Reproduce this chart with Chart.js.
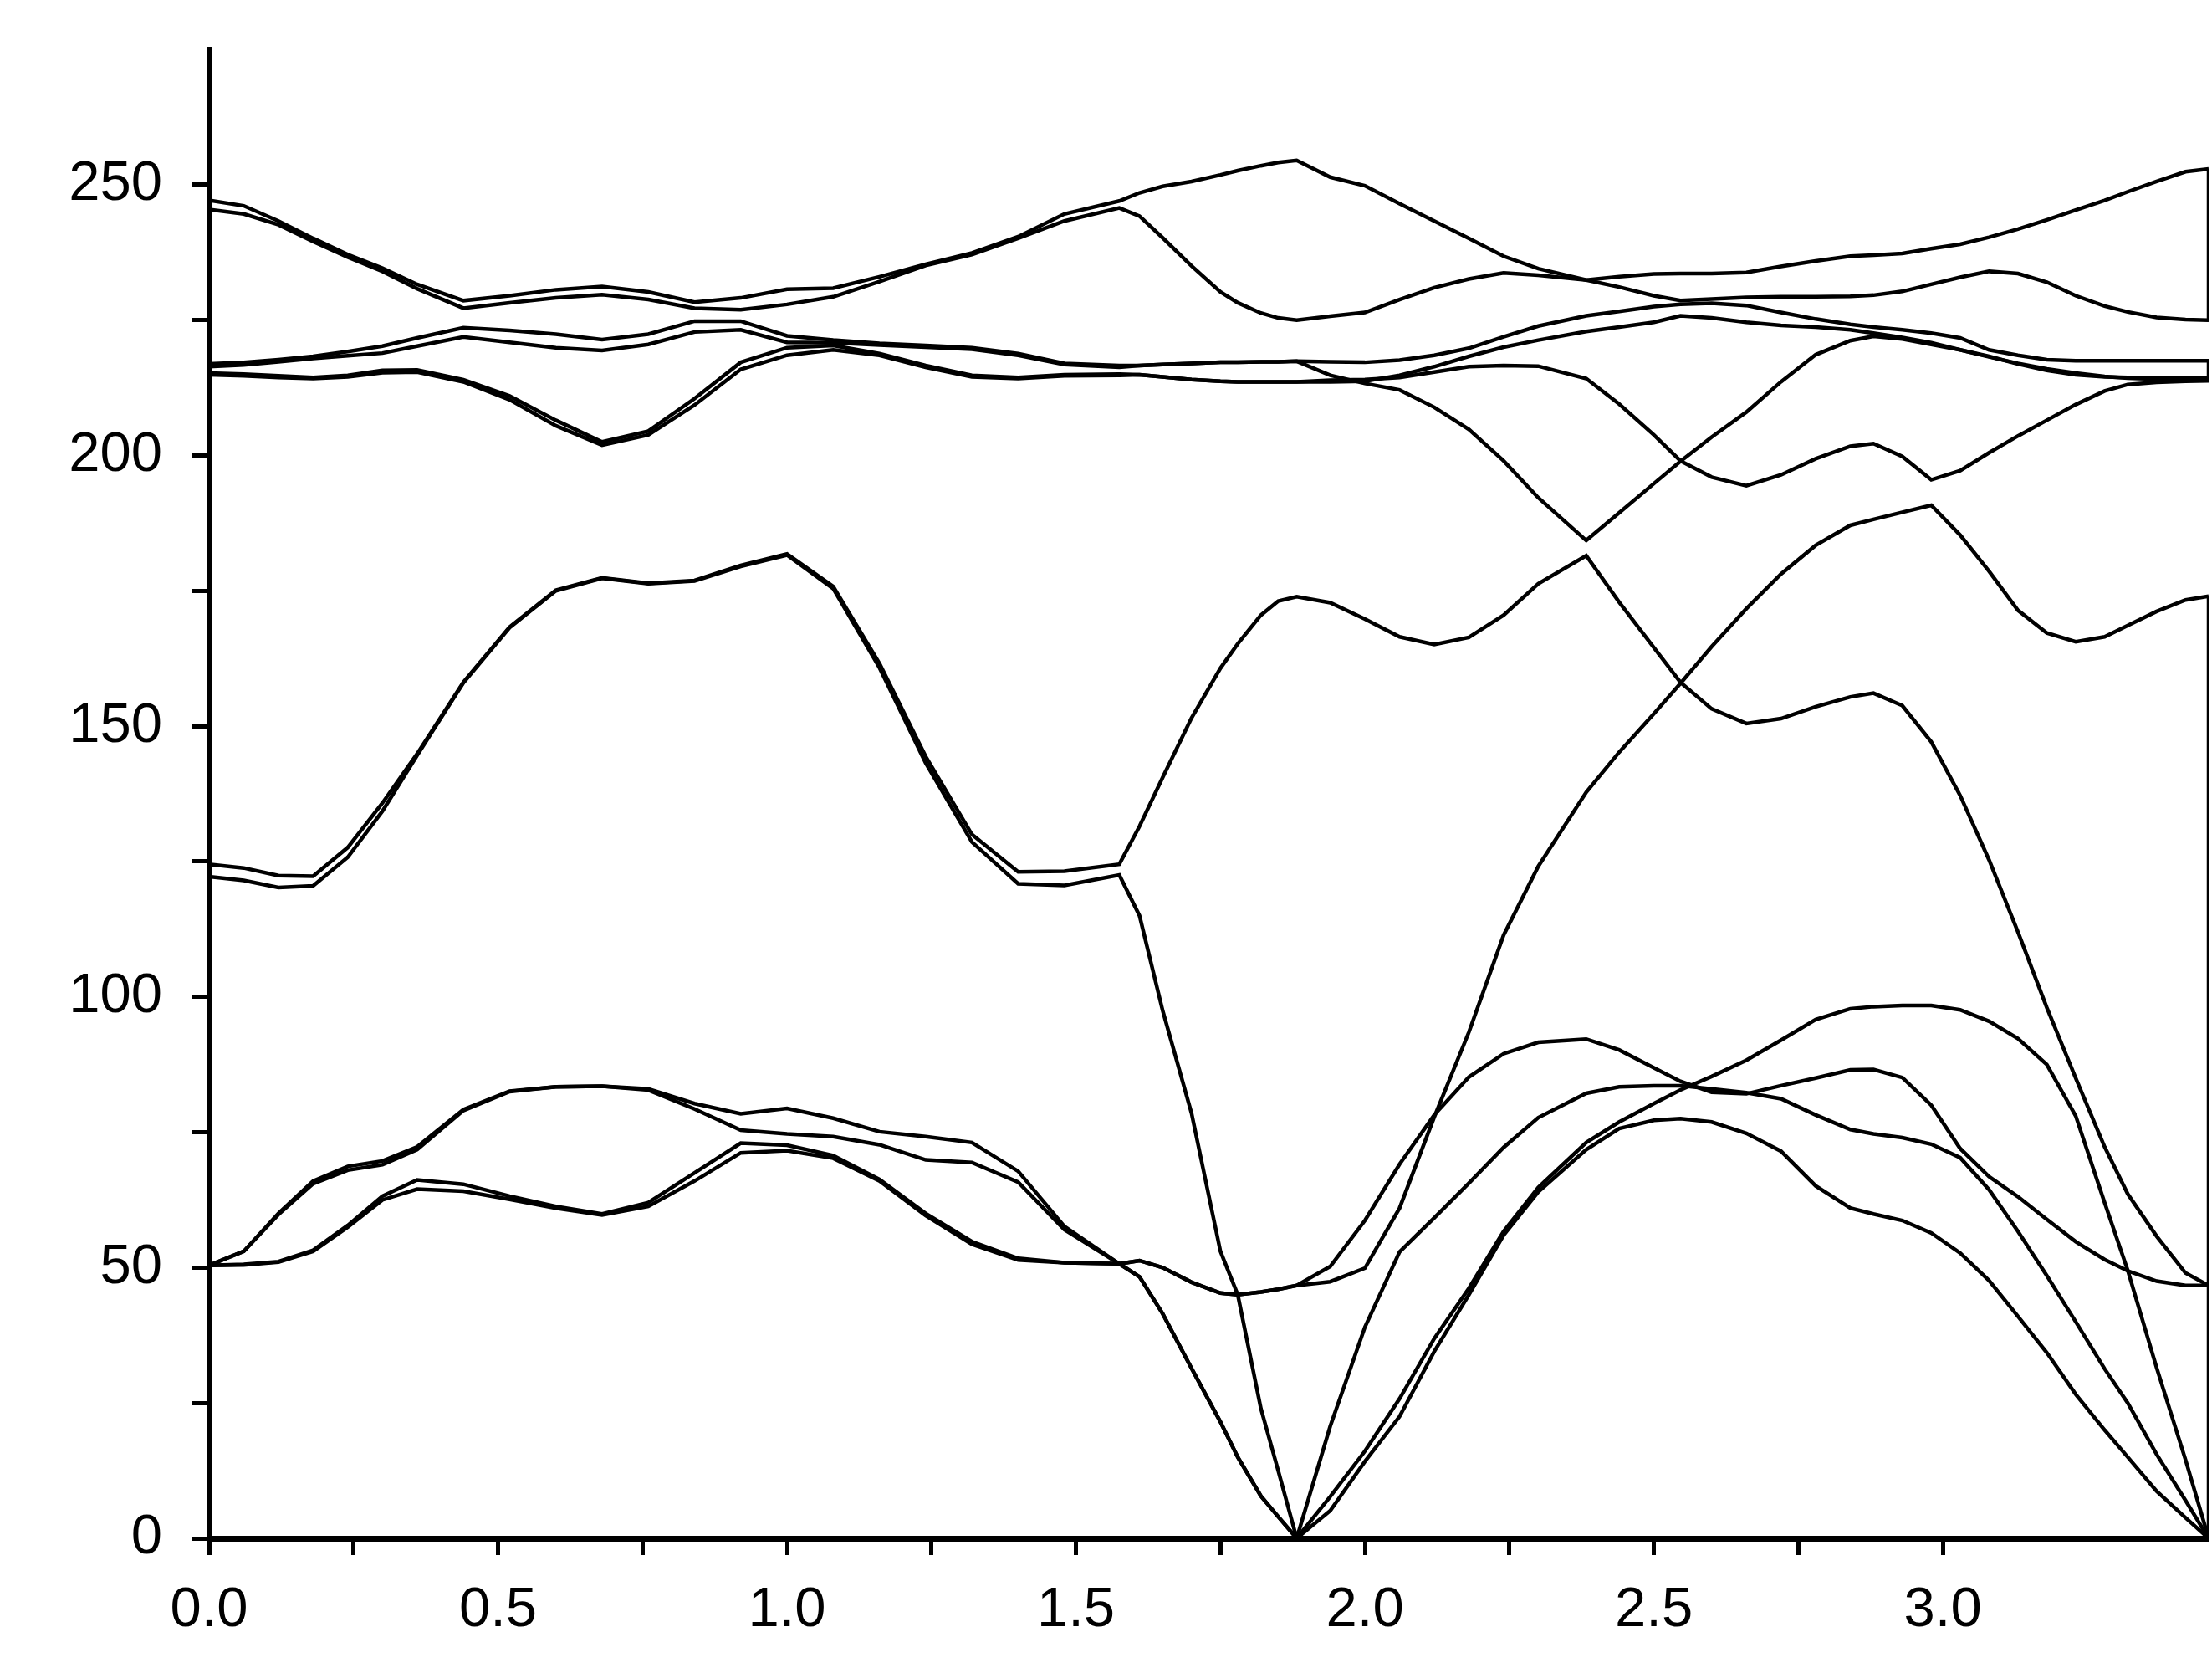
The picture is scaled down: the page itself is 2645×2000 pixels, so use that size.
<!DOCTYPE html>
<html>
<head>
<meta charset="utf-8">
<script src="https://cdn.jsdelivr.net/npm/chart.js@4.4.1/dist/chart.umd.min.js"></script>
<style>
  html, body { margin: 0; padding: 0; background: #fff; }
  canvas { display: block; }
</style>
</head>
<body>
<canvas id="bands" width="2645" height="2000"></canvas>
<script>
// positions along the wave-vector path
const xs = [0, 0.06, 0.12, 0.18, 0.24, 0.3, 0.36, 0.44, 0.52, 0.6, 0.68, 0.76, 0.84, 0.92, 1.0, 1.08, 1.16, 1.24, 1.32, 1.4, 1.48, 1.575,
  1.61, 1.65, 1.7, 1.75, 1.78, 1.82, 1.85, 1.882,
  1.94, 2.0, 2.06, 2.12, 2.18, 2.24, 2.3, 2.383,
  2.44, 2.5, 2.546, 2.6, 2.66, 2.72, 2.78, 2.84, 2.88, 2.93, 2.98, 3.03, 3.08, 3.13, 3.18, 3.23, 3.28, 3.32, 3.37, 3.42, 3.46];

const xTicks = [0, 0.5, 1.0, 1.5, 2.0, 2.5, 3.0];
const yTicks = [0, 50, 100, 150, 200, 250];

// one array per band (frequency)
const band1 = [50.4, 50.5, 51.0, 53.0, 57.5, 62.5, 64.5, 64.1, 62.6, 61.0, 59.7, 61.3, 66.0, 71.2, 71.6, 70.2, 66.0, 59.6, 54.3, 51.4, 50.9, 50.7,
  48.3, 41.5, 31.4, 21.5, 15.0, 7.8, 4.0, 0,
  5.1, 14.2, 22.5, 34.5, 45.0, 56.0, 64.0, 71.8,
  75.7, 77.2, 77.5, 76.9, 74.8, 71.5, 65.1, 61.0, 59.9, 58.7, 56.4, 52.7, 47.6, 41.0, 34.3, 26.6, 20.0, 15.0, 8.7, 3.8, 0];
const band2 = [50.4, 50.6, 51.1, 53.2, 57.8, 63.2, 66.2, 65.4, 63.2, 61.3, 59.9, 62.0, 67.5, 73.0, 72.6, 70.7, 66.3, 60.0, 54.8, 51.7, 50.9, 50.7,
  48.3, 41.5, 31.4, 21.5, 15.0, 7.8, 4.0, 0,
  7.7, 16.1, 25.8, 36.9, 46.2, 56.7, 64.8, 73.1,
  76.9, 80.3, 82.8, 85.3, 88.3, 92.0, 95.8, 97.8, 98.2, 98.4, 98.4, 97.6, 95.5, 92.3, 87.5, 78.0, 62.0, 49.5, 31.5, 14.5, 0];
const band3 = [50.4, 53.0, 59.8, 65.5, 68.0, 69.0, 71.8, 79.0, 82.5, 83.4, 83.5, 82.8, 79.3, 75.4, 74.7, 74.2, 72.7, 69.9, 69.4, 65.8, 57.0, 50.7,
  51.3, 50.0, 47.3, 45.3, 45.0, 45.5, 46.0, 46.7,
  47.4, 49.9, 61.0, 77.8, 93.5, 111.4, 124.1, 137.8,
  145.2, 152.3, 157.9, 164.7, 171.7, 178.1, 183.4, 187.1, 188.2, 189.5, 190.8, 185.3, 178.6, 171.4, 167.2, 165.6, 166.5, 168.6, 171.2, 173.3, 174.0];
const band4 = [50.4, 53.0, 60.0, 66.0, 68.7, 69.7, 72.3, 79.2, 82.6, 83.4, 83.5, 83.0, 80.3, 78.4, 79.4, 77.6, 75.1, 74.2, 73.1, 67.8, 57.6, 50.7,
  51.3, 50.0, 47.3, 45.3, 45.0, 45.5, 46.0, 46.7,
  50.2, 58.7, 69.1, 78.2, 85.2, 89.5, 91.6, 92.2,
  90.2, 86.9, 84.4, 82.4, 82.1, 83.6, 85.0, 86.5, 86.6, 85.1, 80.0, 72.0, 66.8, 63.1, 58.9, 54.8, 51.5, 49.4, 47.5, 46.7, 46.7];
const band5 = [122.2, 121.5, 120.2, 120.5, 125.8, 134.3, 144.6, 158.0, 168.2, 175.0, 177.3, 176.3, 176.8, 179.5, 181.6, 175.4, 160.8, 143.2, 128.6, 120.9, 120.6, 122.5,
  115.0, 97.5, 78.5, 53.0, 45.0, 24.0, 12.5, 0,
  20.7, 39.0, 52.9, 59.2, 65.6, 72.2, 77.7, 82.2,
  83.4, 83.6, 83.6, 83.0, 82.3, 81.2, 78.2, 75.5, 74.7, 74.0, 72.8, 70.3, 64.4, 56.7, 48.5, 40.0, 31.3, 25.0, 15.5, 7.0, 0];
const band6 = [124.5, 123.8, 122.4, 122.3, 127.6, 135.8, 144.9, 158.1, 168.3, 175.1, 177.4, 176.4, 176.9, 179.7, 181.8, 175.8, 161.6, 144.4, 130.0, 123.1, 123.2, 124.5,
  131.5, 140.5, 151.5, 160.7, 165.2, 170.5, 173.1, 173.9,
  172.8, 169.8, 166.5, 165.1, 166.4, 170.5, 176.3, 181.5,
  172.9, 164.5, 158.1, 153.2, 150.5, 151.4, 153.6, 155.4, 156.1, 153.8, 147.1, 137.2, 125.3, 112.0, 98.0, 85.0, 72.3, 63.6, 55.8, 49.0, 46.7];
const band7 = [214.9, 214.7, 214.4, 214.2, 214.5, 215.3, 215.4, 213.6, 210.3, 205.5, 201.9, 203.8, 209.3, 215.9, 218.5, 219.5, 218.5, 216.3, 214.5, 214.2, 214.7, 214.8,
  214.9, 214.5, 214.0, 213.7, 213.6, 213.6, 213.6, 213.6,
  213.9, 214.0, 214.4, 215.4, 216.4, 216.6, 216.5, 214.2,
  209.5, 203.8, 199.0, 196.0, 194.4, 196.4, 199.4, 201.7, 202.2, 199.8, 195.5, 197.2, 200.5, 203.6, 206.5, 209.4, 211.9, 213.1, 213.5, 213.7, 213.8];
const band8 = [215.2, 215.0, 214.7, 214.4, 214.8, 215.7, 215.8, 214.0, 211.0, 206.5, 202.5, 204.5, 210.5, 217.2, 219.9, 220.3, 218.8, 216.6, 214.8, 214.4, 214.9, 215.0,
  214.9, 214.5, 214.0, 213.7, 213.6, 213.6, 213.6, 213.6,
  213.6, 213.7, 214.8, 216.4, 218.3, 220.0, 221.3, 222.9,
  223.7, 224.6, 225.8, 225.4, 224.6, 224.0, 223.7, 223.2, 222.6, 221.8, 220.8, 219.5, 218.2, 217.0, 216.0, 215.2, 214.6, 214.3, 214.1, 214.0, 214.0];
const band9 = [216.4, 216.7, 217.3, 217.9, 218.4, 218.9, 220.2, 221.9, 220.9, 219.9, 219.4, 220.5, 222.8, 223.2, 220.9, 220.8, 220.4, 220.0, 219.6, 218.5, 216.8, 216.3,
  216.6, 216.8, 217.0, 217.2, 217.2, 217.3, 217.3, 217.4,
  214.8, 213.3, 212.1, 208.9, 204.8, 199.0, 192.2, 184.3,
  189.4, 194.8, 198.9, 203.4, 208.0, 213.6, 218.6, 221.2, 222.0, 221.5, 220.5, 219.5, 218.3, 216.9, 215.7, 214.9, 214.5, 214.4, 214.4, 214.4, 214.4];
const band10 = [216.9, 217.2, 217.7, 218.3, 219.2, 220.2, 221.7, 223.6, 223.1, 222.4, 221.4, 222.4, 224.8, 224.8, 222.1, 221.3, 220.7, 220.3, 219.9, 218.8, 217.0, 216.6,
  216.6, 216.8, 217.0, 217.2, 217.2, 217.3, 217.3, 217.4,
  217.3, 217.2, 217.6, 218.5, 219.8, 221.9, 223.9, 225.8,
  226.6, 227.5, 227.9, 228.1, 227.7, 226.4, 225.2, 224.2, 223.7, 223.2, 222.6, 221.7, 219.5, 218.5, 217.7, 217.5, 217.5, 217.5, 217.5, 217.5, 217.5];
const band11 = [245.4, 244.6, 242.6, 239.5, 236.6, 234.0, 230.8, 227.2, 228.2, 229.1, 229.7, 228.8, 227.2, 226.9, 227.9, 229.3, 232.1, 235.1, 237.1, 240.1, 243.3, 245.7,
  244.2, 240.2, 235.0, 230.2, 228.2, 226.3, 225.4, 225.0,
  225.7, 226.4, 228.8, 231.0, 232.6, 233.7, 233.3, 232.4,
  233.0, 233.5, 233.6, 233.6, 233.8, 234.9, 235.9, 236.8, 237.0, 237.3, 238.2, 239.0, 240.3, 241.8, 243.5, 245.3, 247.1, 248.7, 250.6, 252.4, 252.9];
const band12 = [247.1, 246.1, 243.3, 240.1, 237.1, 234.6, 231.6, 228.6, 229.5, 230.6, 231.2, 230.2, 228.3, 229.1, 230.7, 230.9, 233.0, 235.3, 237.4, 240.4, 244.6, 247.0,
  248.5, 249.7, 250.6, 251.8, 252.6, 253.5, 254.1, 254.5,
  251.4, 249.8, 246.5, 243.3, 240.1, 236.8, 234.5, 232.4,
  231.1, 229.5, 228.6, 228.9, 229.2, 229.3, 229.3, 229.4, 229.6, 230.3, 231.6, 232.9, 234.0, 233.6, 232.0, 229.5, 227.6, 226.5, 225.5, 225.1, 225.0];

const bands = [band1, band2, band3, band4, band5, band6, band7, band8, band9, band10, band11, band12];
// bands joined at the right edge (the plot was drawn as one zigzag curve)
const joins = [[band11, band12], [band10, band7], [band3, band1]];

const last = xs.length - 1;
const lineStyle = {
  borderColor: "#000",
  borderWidth: 4.5,
  pointRadius: 0,
  tension: 0,
  fill: false,
};

const datasets = bands.map((b) => ({
  ...lineStyle,
  data: b.map((y, i) => ({ x: xs[i], y: y })),
}));
joins.forEach(([a, b]) => {
  datasets.push({
    ...lineStyle,
    data: [{ x: xs[last], y: a[last] }, { x: xs[last], y: b[last] }],
  });
});

const tickFont = { family: "'Liberation Sans', Arial, sans-serif", size: 67 };

// fixed axis boxes so the plot area sits where the original has it
function noPadding(s) {
  s.paddingTop = 0;
  s.paddingBottom = 0;
  s.paddingLeft = 0;
  s.paddingRight = 0;
}

const bandConfig = {
  type: "line",
  data: { datasets: datasets },
  options: {
    responsive: false,
    animation: false,
    layout: { padding: { top: 59, right: 4, left: 0, bottom: 0 } },
    plugins: { legend: { display: false }, tooltip: { enabled: false } },
    scales: {
      x: {
        type: "linear",
        min: 0,
        max: xs[last],
        afterFit: (s) => { s.height = 161; noPadding(s); },
        afterBuildTicks: (s) => { s.ticks = s.ticks.filter((t) => t.value < xs[last] - 0.01); },
        border: { display: true, color: "#000", width: 7 },
        grid: { drawOnChartArea: false, drawTicks: true, tickLength: 20, tickWidth: 5, tickColor: "#000" },
        ticks: {
          stepSize: 0.25,
          autoSkip: false,
          maxRotation: 0,
          padding: 26,
          color: "#000",
          font: tickFont,
          callback: (v) => {
            const hit = xTicks.find((t) => Math.abs(t - v) < 1e-6);
            return hit === undefined ? "" : hit.toFixed(1);
          },
        },
      },
      y: {
        min: 0,
        max: 275,
        afterFit: (s) => { s.width = 250; noPadding(s); },
        afterBuildTicks: (s) => { s.ticks = s.ticks.filter((t) => t.value <= 250); },
        border: { display: true, color: "#000", width: 7 },
        grid: { drawOnChartArea: false, drawTicks: true, tickLength: 20, tickWidth: 5, tickColor: "#000" },
        ticks: {
          stepSize: 25,
          autoSkip: false,
          padding: 36,
          color: "#000",
          font: tickFont,
          callback: (v) => (yTicks.includes(v) ? String(v) : ""),
        },
      },
    },
  },
};

const bandsCtx = document.getElementById("bands");
window.myBands = new Chart(bandsCtx, bandConfig);
</script>
</body>
</html>
